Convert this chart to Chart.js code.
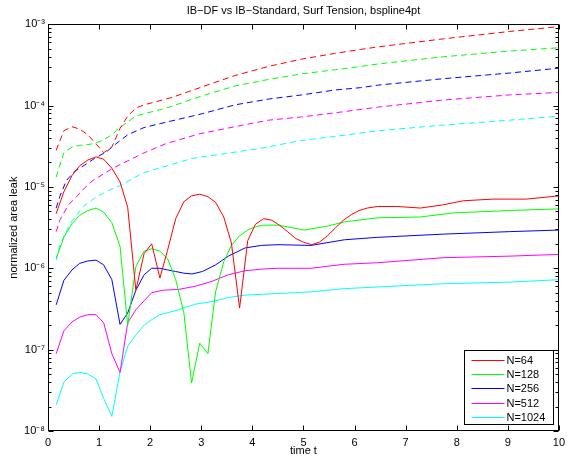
<!DOCTYPE html>
<html>
<head>
<meta charset="utf-8">
<title>IB-DF vs IB-Standard, Surf Tension</title>
<script src="https://cdn.jsdelivr.net/npm/chart.js@4.4.0/dist/chart.umd.min.js"></script>
<style>
  html, body { margin: 0; padding: 0; background: #fff; }
  #wrap { width: 570px; height: 458px; }
</style>
</head>
<body>
<div id="wrap"><canvas id="leak" width="570" height="458"></canvas></div>
<script>
(function() {
    "use strict";

    // Grid sizes and their line colours
    var gridLabels = ['N=64', 'N=128', 'N=256', 'N=512', 'N=1024'];
    var gridColors = ['#ff0000', '#00ff00', '#0000ff', '#ff00ff', '#00ffff'];

    // Axis ticks
    var xTicks = [0, 1, 2, 3, 4, 5, 6, 7, 8, 9, 10];
    var yDecades = [1e-8, 1e-7, 1e-6, 1e-5, 1e-4, 1e-3];
    var yTickLabels = ['10\u207B\u2078', '10\u207B\u2077', '10\u207B\u2076', '10\u207B\u2075', '10\u207B\u2074', '10\u207B\u00B3'];

    // IB-DF runs (solid)
    var tDf64 = [0.16, 0.31, 0.47, 0.62, 0.78, 0.94, 1.09, 1.25, 1.41, 1.56, 1.72, 1.88, 2.03, 2.19, 2.34, 2.50,
        2.66, 2.81, 2.97, 3.13, 3.28, 3.44, 3.59, 3.75, 3.91, 4.06, 4.22, 4.38, 4.53, 4.69, 4.84, 5.0, 5.16,
        5.31, 5.47, 5.63, 5.78, 5.94, 6.09, 6.25, 6.45, 6.83, 7.29, 7.74, 8.13, 8.71, 9.36, 10];
    var leakDf64 = [4.68e-6, 8.71e-6, 1.38e-5, 1.82e-5, 2.14e-5, 2.34e-5, 2.19e-5, 1.70e-5, 1.15e-5, 5.62e-6,
        5.37e-7, 1.51e-6, 2.0e-6, 7.6e-7, 1.66e-6, 4.07e-6, 6.6e-6, 7.76e-6, 8.13e-6, 7.59e-6,
        6.46e-6, 4.27e-6, 2.04e-6, 3.24e-7, 2.19e-6, 3.47e-6, 4.07e-6, 3.89e-6, 3.39e-6, 2.82e-6,
        2.34e-6, 2.09e-6, 1.95e-6, 2.09e-6, 2.51e-6, 3.16e-6, 3.89e-6, 4.57e-6, 5.13e-6, 5.5e-6,
        5.75e-6, 5.75e-6, 5.5e-6, 6.03e-6, 6.76e-6, 7.08e-6, 7.08e-6, 7.76e-6];

    var tDf128 = [0.16, 0.31, 0.47, 0.62, 0.78, 0.94, 1.09, 1.25, 1.41, 1.56, 1.72, 1.88, 2.03, 2.19, 2.34, 2.50,
        2.66, 2.81, 2.97, 3.13, 3.28, 3.44, 3.59, 3.75, 3.91, 4.06, 4.22, 4.5, 5.02, 5.48, 5.8, 6.45, 7.29,
        7.93, 9.03, 10];
    var leakDf128 = [1.32e-6, 2.40e-6, 3.55e-6, 4.47e-6, 5.13e-6, 5.5e-6, 4.9e-6, 3.63e-6, 1.86e-6, 2.0e-7,
        1.05e-6, 1.62e-6, 1.74e-6, 1.62e-6, 1.32e-6, 7.24e-7, 2.82e-7, 3.89e-8, 1.2e-7, 8.9e-8,
        5.13e-7, 1.2e-6, 1.91e-6, 2.51e-6, 2.95e-6, 3.24e-6, 3.39e-6, 3.39e-6, 2.95e-6, 3.31e-6,
        3.72e-6, 4.17e-6, 4.27e-6, 4.79e-6, 5.13e-6, 5.37e-6];

    var tDf256 = [0.16, 0.31, 0.47, 0.62, 0.78, 0.94, 1.09, 1.25, 1.41, 1.56, 1.72, 1.88, 2.03, 2.19, 2.34, 2.50,
        2.66, 2.82, 3.02, 3.28, 3.53, 3.86, 4.18, 4.5, 5.15, 5.8, 6.45, 7.74, 9.03, 10];
    var leakDf256 = [3.55e-7, 7.08e-7, 9.55e-7, 1.15e-6, 1.23e-6, 1.26e-6, 1.10e-6, 7.24e-7, 2.04e-7, 2.82e-7,
        5.37e-7, 8.3e-7, 1.0e-6, 1.0e-6, 9.55e-7, 9.12e-7, 8.71e-7, 8.51e-7, 9.12e-7, 1.10e-6,
        1.41e-6, 1.78e-6, 1.91e-6, 1.95e-6, 1.91e-6, 2.24e-6, 2.40e-6, 2.63e-6, 2.82e-6, 2.95e-6];

    var tDf512 = [0.16, 0.31, 0.47, 0.62, 0.78, 0.94, 1.09, 1.25, 1.41, 1.56, 1.72, 1.88, 2.03, 2.24, 2.56, 2.89,
        3.21, 3.53, 3.86, 4.18, 4.5, 5.15, 5.8, 6.45, 7.74, 9.03, 10];
    var leakDf512 = [8.9e-8, 1.70e-7, 2.19e-7, 2.51e-7, 2.69e-7, 2.69e-7, 2.14e-7, 8.9e-8, 5.25e-8, 2.14e-7,
        3.09e-7, 3.98e-7, 5.01e-7, 5.37e-7, 5.5e-7, 6.03e-7, 6.92e-7, 8.32e-7, 9.33e-7, 9.77e-7,
        1.0e-6, 1.0e-6, 1.12e-6, 1.17e-6, 1.35e-6, 1.41e-6, 1.48e-6];

    var tDf1024 = [0.16, 0.31, 0.47, 0.62, 0.78, 0.94, 1.09, 1.25, 1.41, 1.56, 1.72, 1.88, 2.03, 2.19, 2.5, 2.89,
        3.21, 3.53, 3.86, 4.5, 5.15, 5.8, 6.45, 7.74, 9.03, 10];
    var leakDf1024 = [2.09e-8, 3.98e-8, 5.01e-8, 5.25e-8, 5.01e-8, 4.37e-8, 2.51e-8, 1.51e-8, 5.37e-8, 1.10e-7,
        1.51e-7, 2.0e-7, 2.34e-7, 2.69e-7, 3.02e-7, 3.63e-7, 3.89e-7, 4.37e-7, 4.68e-7, 4.9e-7,
        5.13e-7, 5.62e-7, 5.89e-7, 6.46e-7, 6.76e-7, 7.24e-7];

    // IB-Standard runs (dashed)
    var tStd64 = [0.16, 0.31, 0.47, 0.62, 0.78, 0.94, 1.09, 1.25, 1.41, 1.56, 1.72, 1.88, 2.43, 3.02, 3.66, 4.31,
        4.96, 5.61, 6.12, 6.45, 7.74, 9.03, 10];
    var leakStd64 = [2.82e-5, 4.9e-5, 5.5e-5, 5.13e-5, 4.37e-5, 3.39e-5, 2.63e-5, 3.09e-5, 5.25e-5, 7.41e-5,
        9.33e-5, 1.02e-4, 1.26e-4, 1.70e-4, 2.34e-4, 3.02e-4, 3.72e-4, 4.37e-4, 4.9e-4, 5.25e-4,
        6.61e-4, 8.13e-4, 9.33e-4];

    var tStd128 = [0.16, 0.31, 0.47, 0.62, 0.78, 0.94, 1.09, 1.25, 1.41, 1.56, 1.72, 1.88, 2.14, 2.37, 3.02, 3.66,
        4.31, 4.96, 5.61, 6.12, 6.45, 7.74, 9.03, 10];
    var leakStd128 = [1.32e-5, 2.63e-5, 3.09e-5, 3.24e-5, 3.31e-5, 3.47e-5, 3.80e-5, 4.37e-5, 5.37e-5, 6.31e-5,
        7.41e-5, 7.94e-5, 8.71e-5, 9.55e-5, 1.32e-4, 1.74e-4, 2.09e-4, 2.45e-4, 2.75e-4, 3.02e-4,
        3.24e-4, 3.98e-4, 4.68e-4, 5.13e-4];

    var tStd256 = [0.16, 0.23, 0.36, 0.52, 0.72, 0.91, 1.14, 1.33, 1.56, 1.88, 2.21, 3.02, 3.66, 4.31, 4.96, 5.61,
        6.12, 6.45, 7.74, 9.03, 10];
    var leakStd256 = [5.5e-6, 7.59e-6, 1.20e-5, 1.55e-5, 1.86e-5, 2.24e-5, 2.69e-5, 3.39e-5, 4.37e-5, 5.37e-5,
        6.03e-5, 7.94e-5, 1.02e-4, 1.20e-4, 1.35e-4, 1.55e-4, 1.66e-4, 1.78e-4, 2.14e-4, 2.51e-4, 2.88e-4];

    var tStd512 = [0.16, 0.23, 0.4, 0.56, 0.72, 0.88, 1.27, 1.56, 1.85, 2.3, 2.95, 3.66, 4.31, 4.96, 5.61, 6.45,
        7.74, 9.03, 10];
    var leakStd512 = [2.82e-6, 3.89e-6, 6.03e-6, 7.59e-6, 9.77e-6, 1.20e-5, 1.70e-5, 2.09e-5, 2.57e-5, 3.39e-5,
        4.47e-5, 5.5e-5, 6.61e-5, 7.24e-5, 8.13e-5, 9.55e-5, 1.17e-4, 1.35e-4, 1.45e-4];

    var tStd1024 = [0.16, 0.23, 0.43, 0.69, 0.95, 1.2, 1.43, 1.85, 2.17, 2.82, 3.47, 4.12, 4.96, 5.61, 6.45, 7.74,
        9.03, 10];
    var leakStd1024 = [1.26e-6, 1.91e-6, 3.55e-6, 5.75e-6, 7.59e-6, 9.12e-6, 1.05e-5, 1.48e-5, 1.70e-5, 2.24e-5,
        2.57e-5, 2.95e-5, 3.72e-5, 4.17e-5, 4.9e-5, 5.75e-5, 6.61e-5, 7.41e-5];

    var dfRuns = [[tDf64, leakDf64], [tDf128, leakDf128], [tDf256, leakDf256], [tDf512, leakDf512], [tDf1024, leakDf1024]];
    var stdRuns = [[tStd64, leakStd64], [tStd128, leakStd128], [tStd256, leakStd256], [tStd512, leakStd512], [tStd1024, leakStd1024]];

    var FONT = '"Liberation Sans", Arial, Helvetica, sans-serif';

    function points(run) {
        return run[0].map(function(t, i) { return {x: t, y: run[1][i]}; });
    }

    var datasets = [];
    dfRuns.forEach(function(run, i) {
        datasets.push({
            label: gridLabels[i],
            data: points(run),
            borderColor: gridColors[i],
            borderWidth: 1,
            pointRadius: 0,
            tension: 0
        });
    });
    stdRuns.forEach(function(run, i) {
        datasets.push({
            label: gridLabels[i] + ' std',
            data: points(run),
            borderColor: gridColors[i],
            borderWidth: 1,
            borderDash: [6, 4],
            pointRadius: 0,
            tension: 0
        });
    });

    // Box around the axes with inward tick marks on all four sides
    var axesBox = {
        id: 'axesBox',
        afterDatasetsDraw: function(chart) {
            var ctx = chart.ctx, a = chart.chartArea;
            var x = chart.scales.x, y = chart.scales.y;
            var L = Math.round(a.left) + 0.5, R = Math.round(a.right) - 0.5;
            var T = Math.round(a.top) + 0.5, B = Math.round(a.bottom) - 0.5;
            ctx.save();
            ctx.strokeStyle = '#000';
            ctx.lineWidth = 1;
            ctx.beginPath();
            x.ticks.forEach(function(t) {
                var px = Math.round(x.getPixelForValue(t.value)) + 0.5;
                ctx.moveTo(px, B); ctx.lineTo(px, B - 5);
                ctx.moveTo(px, T); ctx.lineTo(px, T + 5);
            });
            y.ticks.forEach(function(t) {
                var py = Math.round(y.getPixelForValue(t.value)) + 0.5;
                var len = t.major ? 5 : 3;
                ctx.moveTo(L, py); ctx.lineTo(L + len, py);
                ctx.moveTo(R, py); ctx.lineTo(R - len, py);
            });
            ctx.stroke();
            ctx.strokeRect(L, T, R - L, B - T);
            ctx.restore();
        }
    };

    // Legend box in the lower right corner, solid runs only
    var boxLegend = {
        id: 'boxLegend',
        afterDraw: function(chart) {
            var ctx = chart.ctx, a = chart.chartArea;
            var items = chart.data.datasets.filter(function(d) { return !d.borderDash; });
            var w = 89, h = 74;
            var left = Math.round(a.right) - 6 - w + 0.5;
            var top = Math.round(a.bottom) - 7 - h + 0.5;
            ctx.save();
            ctx.fillStyle = '#fff';
            ctx.fillRect(left, top, w, h);
            ctx.strokeStyle = '#000';
            ctx.lineWidth = 1;
            ctx.strokeRect(left, top, w, h);
            ctx.font = '11px ' + FONT;
            ctx.textBaseline = 'middle';
            items.forEach(function(d, i) {
                var ly = Math.round(top + 9 + i * 14.4) + 0.5;
                ctx.strokeStyle = d.borderColor;
                ctx.beginPath();
                ctx.moveTo(left + 7, ly);
                ctx.lineTo(left + 40, ly);
                ctx.stroke();
                ctx.fillStyle = '#000';
                ctx.fillText(d.label, left + 42, ly);
            });
            ctx.restore();
        }
    };

    new Chart(document.getElementById('leak'), {
        type: 'line',
        data: {datasets: datasets},
        plugins: [axesBox, boxLegend],
        options: {
            responsive: false,
            animation: false,
            devicePixelRatio: 1,
            layout: {padding: {left: 0, right: 7, top: 0, bottom: 0}},
            plugins: {
                legend: {display: false},
                tooltip: {enabled: false},
                title: {
                    display: true,
                    fullSize: false,
                    text: 'IB\u2212DF vs IB\u2212Standard, Surf Tension, bspline4pt',
                    color: '#000',
                    font: {family: FONT, size: 11, weight: 'normal'},
                    padding: {top: 4, bottom: 7}
                }
            },
            scales: {
                x: {
                    type: 'linear',
                    min: 0,
                    max: 10,
                    afterBuildTicks: function(s) {
                        s.ticks = xTicks.map(function(v) { return {value: v}; });
                    },
                    afterFit: function(s) { s.height = 27; },
                    grid: {display: false, drawTicks: false},
                    border: {display: false},
                    ticks: {
                        autoSkip: false,
                        maxRotation: 0,
                        padding: 5,
                        color: '#000',
                        font: {family: FONT, size: 11}
                    },
                    title: {
                        display: true,
                        text: 'time t',
                        color: '#000',
                        font: {family: FONT, size: 11},
                        padding: {top: 0, bottom: 0}
                    }
                },
                y: {
                    type: 'logarithmic',
                    min: 1e-8,
                    max: 1e-3,
                    afterBuildTicks: function(s) {
                        var ticks = [];
                        yDecades.forEach(function(d, i) {
                            ticks.push({value: d, major: true});
                            if (i < yDecades.length - 1) {
                                for (var m = 2; m <= 9; m++) ticks.push({value: d * m, major: false});
                            }
                        });
                        s.ticks = ticks;
                    },
                    afterFit: function(s) { s.width = 48; },
                    grid: {display: false, drawTicks: false},
                    border: {display: false},
                    ticks: {
                        autoSkip: false,
                        padding: 3,
                        color: '#000',
                        font: {family: FONT, size: 11},
                        callback: function(v) {
                            for (var i = 0; i < yDecades.length; i++) {
                                if (Math.abs(v / yDecades[i] - 1) < 1e-6) return yTickLabels[i];
                            }
                            return '';
                        }
                    },
                    title: {
                        display: true,
                        text: 'normalized area leak',
                        color: '#000',
                        font: {family: FONT, size: 11},
                        padding: {top: 7, bottom: 0}
                    }
                }
            }
        }
    });
})();
</script>
</body>
</html>
